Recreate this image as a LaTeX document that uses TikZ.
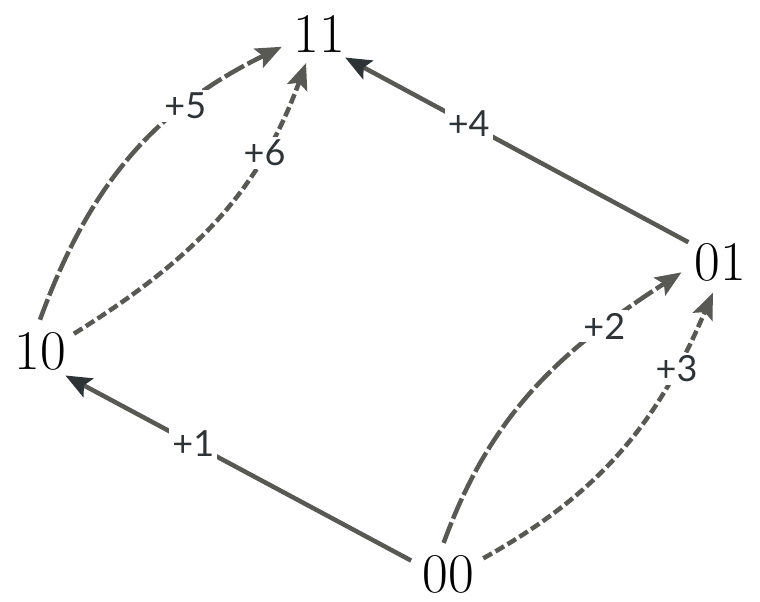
\documentclass[tikz,border=0pt]{standalone}
\usepackage{fontspec}
\usetikzlibrary{arrows.meta,shapes.geometric}
\newfontfamily\lblfam{Lato}
\definecolor{edgegray}{HTML}{585955}
\definecolor{tipdark}{HTML}{2E3336}
\definecolor{labelgray}{HTML}{2F3335}
\newcommand{\lblfont}{\lblfam\fontsize{36}{38}\selectfont}
\begin{document}
\begin{tikzpicture}[x=1pt,y=1pt,
  state/.style={ellipse,inner sep=3pt,font=\fontsize{56}{60}\selectfont,text=black},
  edge/.style={line width=4.5pt,draw=edgegray,-{Stealth[length=26pt,width=21pt,inset=5pt,color=edgegray]}},
  solidedge/.style={line width=4.5pt,draw=edgegray,-{Stealth[length=26pt,width=21pt,inset=5pt,color=tipdark]}},
  longdash/.style={dash pattern=on 22pt off 4pt},
  shortdash/.style={dash pattern=on 10pt off 4pt},
  lbl/.style={fill=white,inner sep=3pt,text=labelgray}]
\useasboundingbox (0,0) rectangle (760,-602);
\node[state] (n11) at (319,-34) {11};
\node[state] (n01) at (720,-262) {01};
\node[state] (n10) at (40,-351) {10};
\node[state] (n00) at (448,-574) {00};
\draw[solidedge] (n00.160) -- node[lbl,pos=0.63]{\lblfont +1} (n10.-44);
\draw[solidedge] (n01.148) -- node[lbl,pos=0.64]{\lblfont +4} (n11.-42);
\draw[edge,longdash] (n00.98) to[out=70,in=213] node[lbl,pos=0.76]{\lblfont +2} (n01.195);
\draw[edge,shortdash] (n00.24) to[out=29,in=247] node[lbl,pos=0.78]{\lblfont +3} (n01.257);
\draw[edge,longdash] (n10.90) to[out=70,in=206] node[lbl,pos=0.71]{\lblfont +5} (n11.199);
\draw[edge,shortdash] (n10.27) to[out=32,in=250] node[lbl,pos=0.74]{\lblfont +6} (n11.246);
\end{tikzpicture}
\end{document}
